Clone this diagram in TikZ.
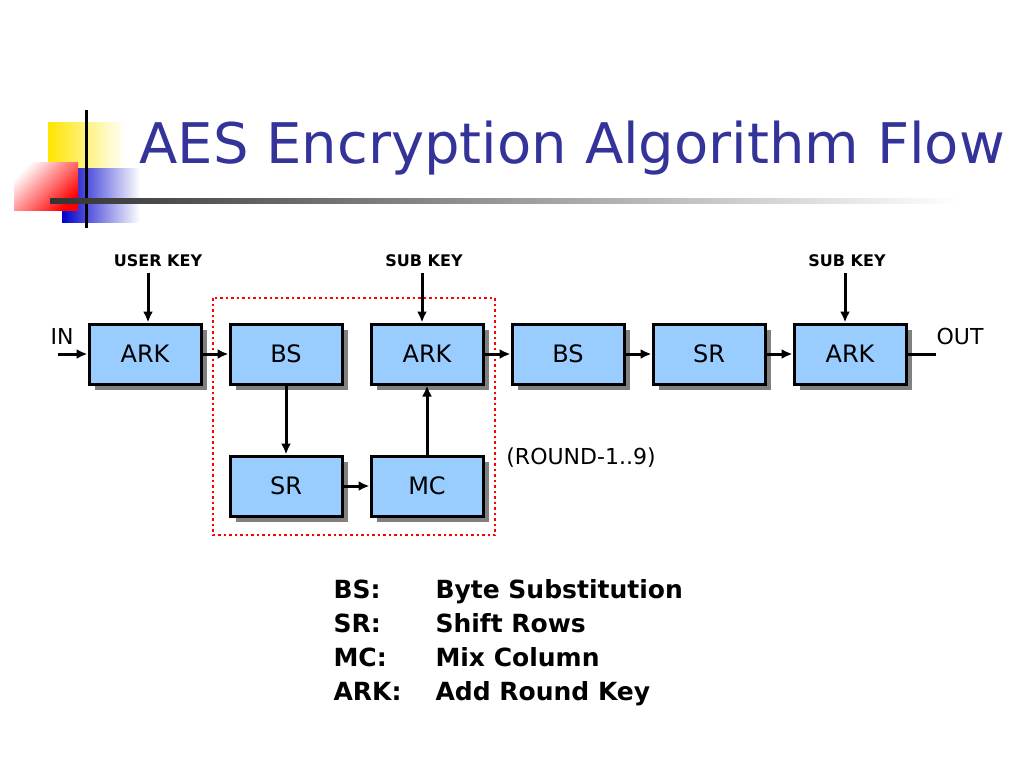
\documentclass[tikz,border=0pt]{standalone}
\usepackage{fontspec}
\setmainfont{DejaVu Sans}
\usetikzlibrary{shadows,arrows.meta}
\definecolor{tblue}{RGB}{51,51,153}
\definecolor{boxfill}{RGB}{153,204,255}
\begin{document}
\begin{tikzpicture}[x=1pt,y=-1pt,
 blk/.style={draw=black,line width=3pt,fill=boxfill,minimum width=112pt,minimum height=60pt,font=\fontsize{24}{26}\selectfont,drop shadow={shadow xshift=6pt,shadow yshift=-6pt,fill=gray,opacity=1}},
 arr/.style={line width=3pt,-{Latex[length=11pt,width=10pt]}},
 lab/.style={font=\fontsize{22}{24}\selectfont},
 key/.style={font=\bfseries\fontsize{16}{18}\selectfont},
 leg/.style={font=\bfseries\fontsize{25}{28}\selectfont,anchor=base west}]
\useasboundingbox (0,0) rectangle (1024,768);
% logo
\shade[left color=yellow!80!orange,right color=white] (48,122) rectangle (125,180);
\shade[left color=blue!80!black,right color=white] (62,168) rectangle (140,222);
\shade[right color=red,left color=white,shading angle=45] (14,162) rectangle (78,210);
\draw[line width=3pt] (86,110) -- (86,228);
\shade[left color=black!80,right color=white] (50,198) rectangle (960,203);
\node[anchor=west,text=tblue,font=\fontsize{56}{60}\selectfont] (title) at (136,148) {AES Encryption Algorithm Flow};
% boxes
\node[blk] (ark1) at (145,354) {ARK};
\node[blk] (bs1) at (286,354) {BS};
\node[blk] (ark2) at (427,354) {ARK};
\node[blk] (bs2) at (568,354) {BS};
\node[blk] (sr2) at (709,354) {SR};
\node[blk] (ark3) at (850,354) {ARK};
\node[blk] (sr1) at (286,486) {SR};
\node[blk] (mc1) at (427,486) {MC};
\draw[red,line width=2.5pt,dash pattern=on 2.5pt off 3pt] (213,298) rectangle (495,535);
% keys
\node[key] (uk) at (158,261) {USER KEY};
\node[key] (sk1) at (424,261) {SUB KEY};
\node[key] (sk2) at (847,261) {SUB KEY};
\coordinate (k1) at (148,273);
\coordinate (k2) at (422,273);
\coordinate (k3) at (845,273);
\draw[arr] (k1) -- (k1 |- ark1.north);
\draw[arr] (k2) -- (k2 |- ark2.north);
\draw[arr] (k3) -- (k3 |- ark3.north);
\node[lab] (in) at (62,336) {IN};
\node[lab] (out) at (960,336) {OUT};
\coordinate (inst) at (58,354);
\coordinate (outend) at (936,354);
\draw[arr] (inst) -- (ark1.west);
\draw[arr] (ark1) -- (bs1);
\draw[arr] (bs1) -- (sr1);
\draw[arr] (sr1) -- (mc1);
\draw[arr] (mc1) -- (ark2);
\draw[arr] (ark2) -- (bs2);
\draw[arr] (bs2) -- (sr2);
\draw[arr] (sr2) -- (ark3);
\draw[line width=3pt] (ark3.east) -- (outend);
\node[lab] (round) at (581,458) {(ROUND-1..9)};
% legend
\node[leg] (l1) at (330,598) {BS:};
\node[leg] (l2) at (330,632) {SR:};
\node[leg] (l3) at (330,666) {MC:};
\node[leg] (l4) at (330,700) {ARK:};
\node[leg] (d1) at (432,598) {Byte Substitution};
\node[leg] (d2) at (432,632) {Shift Rows};
\node[leg] (d3) at (432,666) {Mix Column};
\node[leg] (d4) at (432,700) {Add Round Key};
\end{tikzpicture}
\end{document}
